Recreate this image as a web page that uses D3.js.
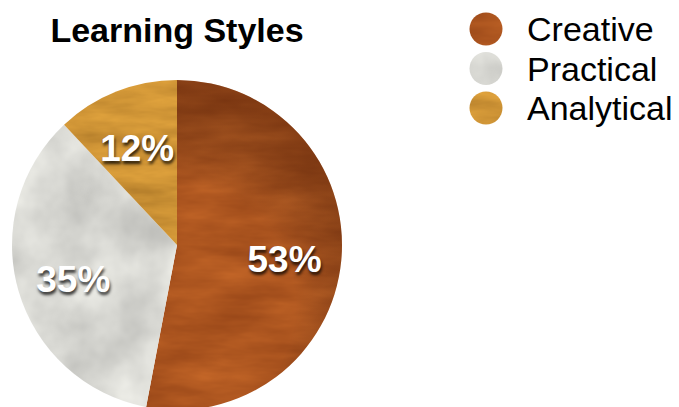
<!DOCTYPE html>
<html>
<head>
<meta charset="utf-8">
<script src="https://cdn.jsdelivr.net/npm/d3@7"></script>
<style>
  body { margin: 0; background: #fff; }
  svg { display: block; font-family: "Liberation Sans", Arial, Helvetica, sans-serif; }
  .pct { fill: #fff; font-weight: bold; font-size: 37px; text-shadow: 1px 3px 3px rgba(0,0,0,0.75); }
</style>
</head>
<body>
<div id="chart"></div>
<script>
const categories = ['Creative', 'Practical', 'Analytical'];
const values = [53, 35, 12];
const labels = ['53%', '35%', '12%'];

const width = 679, height = 407;
const cx = 177, cy = 245, radius = 165;

// base colour + noise swing per slice, used to fake the photo textures
const textures = [
  { base: [0.67, 0.33, 0.12], swing: [0.22, 0.16, 0.08], freq: '0.012 0.05', oct: 4 },
  { base: [0.85, 0.85, 0.83], swing: [0.28, 0.28, 0.27], freq: '0.016', oct: 4 },
  { base: [0.81, 0.58, 0.21], swing: [0.24, 0.20, 0.10], freq: '0.015 0.06', oct: 4 }
];

const svg = d3.select('#chart')
  .append('svg')
  .attr('width', width)
  .attr('height', height);

const defs = svg.append('defs');
textures.forEach(function(t, i) {
  const f = defs.append('filter')
    .attr('id', 'tex-' + i)
    .attr('x', 0).attr('y', 0)
    .attr('width', 1).attr('height', 1)
    .attr('color-interpolation-filters', 'sRGB');
  f.append('feTurbulence')
    .attr('type', 'fractalNoise')
    .attr('baseFrequency', t.freq)
    .attr('numOctaves', t.oct)
    .attr('seed', 3 + i)
    .attr('result', 'noise');
  const row = function(c) {
    const m = [0, 0, 0, 0, 0];
    m[0] = t.swing[c];
    m[4] = t.base[c] - 0.5 * t.swing[c];
    return m.join(' ');
  };
  f.append('feColorMatrix')
    .attr('in', 'noise')
    .attr('type', 'matrix')
    .attr('values', [row(0), row(1), row(2), '0 0 0 0 1'].join(' '))
    .attr('result', 'col');
  f.append('feComposite')
    .attr('in', 'col')
    .attr('in2', 'SourceGraphic')
    .attr('operator', 'in');
});

// slight shading so the top right of the pie looks darker, like the photo
const shade = defs.append('radialGradient')
  .attr('id', 'shade')
  .attr('gradientUnits', 'userSpaceOnUse')
  .attr('cx', 0).attr('cy', 60).attr('r', radius * 1.3);
shade.append('stop').attr('offset', '0.55').attr('stop-color', '#000').attr('stop-opacity', 0);
shade.append('stop').attr('offset', '1').attr('stop-color', '#3a1000').attr('stop-opacity', 0.35);

// title
svg.append('text')
  .attr('x', cx)
  .attr('y', 42)
  .attr('text-anchor', 'middle')
  .style('font-size', '34px')
  .style('font-weight', 'bold')
  .text('Learning Styles');

// pie
const pie = d3.pie().sort(null).value(d => d);
const arc = d3.arc().innerRadius(0).outerRadius(radius);
const labelArc = d3.arc().innerRadius(108).outerRadius(108);

const g = svg.append('g').attr('transform', 'translate(' + cx + ',' + cy + ')');
const slices = pie(values);

g.selectAll('path.slice')
  .data(slices)
  .enter()
  .append('path')
  .attr('class', 'slice')
  .attr('d', arc)
  .attr('fill', (d, i) => d3.rgb(textures[i].base[0] * 255, textures[i].base[1] * 255, textures[i].base[2] * 255))
  .attr('filter', (d, i) => 'url(#tex-' + i + ')');

// shading only on the creative slice
g.append('path')
  .attr('d', arc(slices[0]))
  .attr('fill', 'url(#shade)');

g.selectAll('text.pct')
  .data(slices)
  .enter()
  .append('text')
  .attr('class', 'pct')
  .attr('text-anchor', 'middle')
  .attr('dy', '0.45em')
  .attr('transform', d => 'translate(' + labelArc.centroid(d) + ')')
  .text((d, i) => labels[i]);

// legend
const legend = svg.append('g').attr('transform', 'translate(486,0)');
const rowY = d3.scalePoint().domain(categories).range([29, 108]);

legend.selectAll('circle')
  .data(categories)
  .enter()
  .append('circle')
  .attr('cx', 0)
  .attr('cy', d => rowY(d))
  .attr('r', 16.5)
  .attr('fill', '#aaa')
  .attr('filter', (d, i) => 'url(#tex-' + i + ')');

legend.selectAll('text')
  .data(categories)
  .enter()
  .append('text')
  .attr('x', 41)
  .attr('y', d => rowY(d) + 12)
  .style('font-size', '34px')
  .text(d => d);
</script>
</body>
</html>
